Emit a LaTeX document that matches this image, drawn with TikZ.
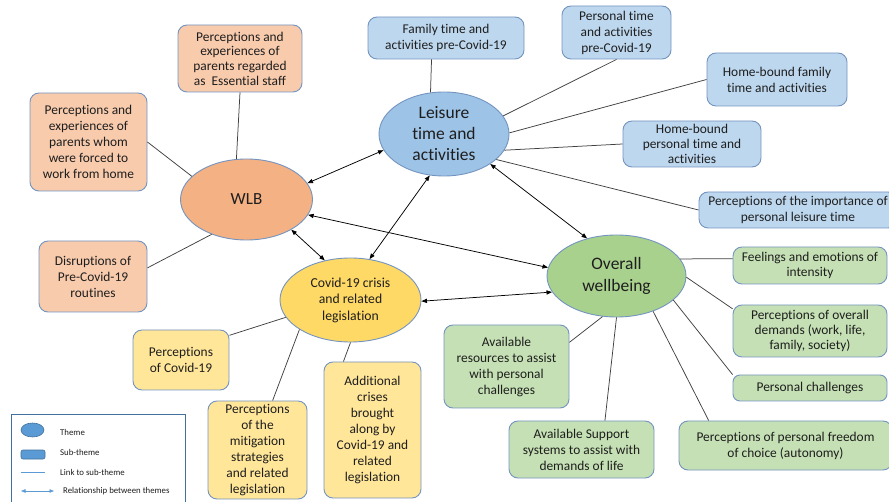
\documentclass[tikz,border=0pt]{standalone}
\usepackage{fontspec}
\setmainfont{Carlito}[Ligatures=NoCommon]
\usetikzlibrary{shapes.geometric,arrows.meta}

\definecolor{bordc}{HTML}{7494C0}
\definecolor{linkc}{HTML}{404040}
\definecolor{txtc}{HTML}{1E1E1E}
\definecolor{wlbfill}{HTML}{F4B183}
\definecolor{wlbsub}{HTML}{F8CBAD}
\definecolor{leisfill}{HTML}{9DC3E6}
\definecolor{leissub}{HTML}{BDD7EE}
\definecolor{covfill}{HTML}{FFD966}
\definecolor{covsub}{HTML}{FFE699}
\definecolor{wellfill}{HTML}{A9D18E}
\definecolor{wellsub}{HTML}{C5E0B4}
\definecolor{legblue}{HTML}{5B9BD5}
\definecolor{legedge}{HTML}{41719C}

\tikzset{
  theme/.style={ellipse, draw=bordc, line width=0.9pt, inner sep=0pt,
    align=center, text=txtc},
  subbox/.style={rectangle, rounded corners=9pt, draw=bordc, line width=0.9pt,
    inner sep=0pt, align=center, text=txtc,
    font=\fontsize{13.4}{16}\selectfont},
  link/.style={draw=linkc, line width=0.75pt},
  rel/.style={{Triangle[length=5.5pt,width=4.2pt]}-{Triangle[length=5.5pt,width=4.2pt]},
    draw=black, line width=0.75pt},
  legtext/.style={anchor=west, inner sep=0pt, text=txtc,
    font=\fontsize{8.8}{10}\selectfont},
}

\begin{document}
\begin{tikzpicture}[x=1pt,y=-1pt]
\useasboundingbox (0,0) rectangle (889,502);

% ---- themes ----
\node[theme, fill=wlbfill, minimum width=132pt, minimum height=81pt,
      font=\fontsize{17}{21}\selectfont] (wlb) at (246.5,199.5) {WLB};
\node[theme, fill=leisfill, minimum width=130pt, minimum height=84pt,
      font=\fontsize{17.5}{21}\selectfont] (leis) at (444,134) {Leisure\\time and\\activities};
\node[theme, fill=covfill, minimum width=141pt, minimum height=84pt,
      font=\fontsize{13.7}{16.5}\selectfont] (covid) at (350.5,300) {Covid-19 crisis\\and related\\legislation};
\node[theme, fill=wellfill, minimum width=139pt, minimum height=82pt,
      font=\fontsize{17.5}{21.5}\selectfont] (well) at (616.5,276) {Overall\\wellbeing};

% ---- WLB sub-themes ----
\node[subbox, fill=wlbsub, minimum width=124pt, minimum height=67pt,
      font=\fontsize{13.4}{14.7}\selectfont] (ess) at (240,58.5)
  {Perceptions and\\experiences of\\parents regarded\\as~~Essential staff};
\node[subbox, fill=wlbsub, minimum width=117pt, minimum height=98pt] (wfh) at (88.5,142)
  {Perceptions and\\experiences of\\parents whom\\were forced to\\work from home};
\node[subbox, fill=wlbsub, minimum width=108pt, minimum height=71pt] (dis) at (93,276.5)
  {Disruptions of\\Pre-Covid-19\\routines};

% ---- leisure sub-themes ----
\node[subbox, fill=leissub, minimum width=156pt, minimum height=42pt,
      font=\fontsize{13.4}{16.7}\selectfont] (fam) at (446,38)
  {Family time and\\activities pre-Covid-19};
\node[subbox, fill=leissub, minimum width=109pt, minimum height=53pt] (per) at (616.5,32.5)
  {Personal time\\and activities\\pre-Covid-19};
\node[subbox, fill=leissub, minimum width=140pt, minimum height=53pt] (hbf) at (777,79.5)
  {Home-bound family\\time and activities};
\node[subbox, fill=leissub, minimum width=138pt, minimum height=46pt,
      font=\fontsize{13.4}{15}\selectfont] (hbp) at (692,144)
  {Home-bound\\personal time and\\activities};
\node[subbox, fill=leissub, minimum width=198pt, minimum height=36pt,
      font=\fontsize{13.4}{15.5}\selectfont] (imp) at (798,210)
  {Perceptions of the importance of\\personal leisure time};

% ---- wellbeing sub-themes ----
\node[subbox, fill=wellsub, minimum width=154pt, minimum height=37pt,
      font=\fontsize{13.4}{15}\selectfont] (fee) at (810,265.5)
  {Feelings and emotions of\\intensity};
\node[subbox, fill=wellsub, minimum width=154pt, minimum height=52pt,
      font=\fontsize{13.4}{15.3}\selectfont] (dem) at (810,331)
  {Perceptions of overall\\demands (work, life,\\family, society)};
\node[subbox, fill=wellsub, minimum width=154pt, minimum height=26pt, rounded corners=7pt] (cha) at (810,388)
  {Personal challenges};
\node[subbox, fill=wellsub, minimum width=213pt, minimum height=49pt] (fre) at (785.5,445.5)
  {Perceptions of personal freedom\\of choice (autonomy)};
\node[subbox, fill=wellsub, minimum width=125pt, minimum height=83pt] (res) at (506.5,366.5)
  {Available\\resources to assist\\with personal\\challenges};
\node[subbox, fill=wellsub, minimum width=145pt, minimum height=57pt] (sup) at (581.5,449.5)
  {Available Support\\systems to assist with\\demands of life};

% ---- covid sub-themes ----
\node[subbox, fill=covsub, minimum width=96pt, minimum height=60pt] (pcv) at (181,360)
  {Perceptions\\of Covid-19};
\node[subbox, fill=covsub, minimum width=99pt, minimum height=98pt] (mit) at (257.5,450)
  {Perceptions\\of the\\mitigation\\strategies\\and related\\legislation};
\node[subbox, fill=covsub, minimum width=97pt, minimum height=136pt] (add) at (372.5,430)
  {Additional\\crises\\brought\\along by\\Covid-19 and\\related\\legislation};

% ---- links to sub-themes ----
\draw[link] (ess.south) -- (wlb.104.5);
\draw[link] (wfh.east) -- (wlb.157);
\draw[link] (dis.9) -- (wlb.225.8);

\draw[link] (fam.236.3) -- (leis.108.4);
\draw[link] (per.south) -- (leis.17.9);
\draw[link] (hbf.west) -- (leis.1);
\draw[link] (hbp.west) -- (leis.345);
\draw[link] (imp.west) -- (leis.334.7);

\draw[link] (pcv.27.5) -- (covid.195.6);
\draw[link] (mit.73.5) -- (covid.210.4);
\draw[link] (add.113.5) -- (covid.270);

\draw[link] (fee.175.2) -- (well.15.8);
\draw[link] (dem.164.7) -- (well.359);
\draw[link] (cha.north west) -- (well.337.6);
\draw[link] (fre.162.7) -- (well.316.9);
\draw[link] (sup.51.7) -- (well.270);
\draw[link] (res.21.4) -- (well.251.8);

% ---- relationships between themes ----
\draw[rel] (wlb.15) -- (leis.195.8);
\draw[rel] (wlb.346.7) -- (well.173.6);
\draw[rel] (wlb.326.7) -- (covid.123.2);
\draw[rel] (leis.251.6) -- (covid.65.1);
\draw[rel] (leis.327.4) -- (well.128.4);
\draw[rel] (covid.359.2) -- (well.194.8);

% ---- key ----
\node[rectangle, draw=legedge, line width=0.8pt, fill=white, inner sep=0pt,
      minimum width=174pt, minimum height=90pt] (legbox) at (98,459) {};
\node[ellipse, draw=legedge, line width=0.6pt, fill=legblue, inner sep=0pt,
      minimum width=23pt, minimum height=14pt] (legth) at (32.5,430) {};
\node[rectangle, rounded corners=2pt, draw=legedge, line width=0.6pt, fill=legblue,
      inner sep=0pt, minimum width=24pt, minimum height=9pt] (legsub) at (33,454.5) {};
\coordinate (lnA) at (21,472);
\coordinate (lnB) at (45,472);
\draw[draw=legblue, line width=0.6pt] (lnA) -- (lnB);
\coordinate (arA) at (21,491);
\coordinate (arB) at (54,491);
\draw[{Triangle[length=4.5pt,width=3.5pt]}-{Triangle[length=4.5pt,width=3.5pt]},
      draw=legblue, fill=legblue, line width=0.6pt] (arA) -- (arB);
\node[legtext] (lt1) at (60,432) {Theme};
\node[legtext] (lt2) at (60,452) {Sub-theme};
\node[legtext] (lt3) at (60,472) {Link to sub-theme};
\node[legtext] (lt4) at (63,491) {Relationship between themes};
\end{tikzpicture}
\end{document}
